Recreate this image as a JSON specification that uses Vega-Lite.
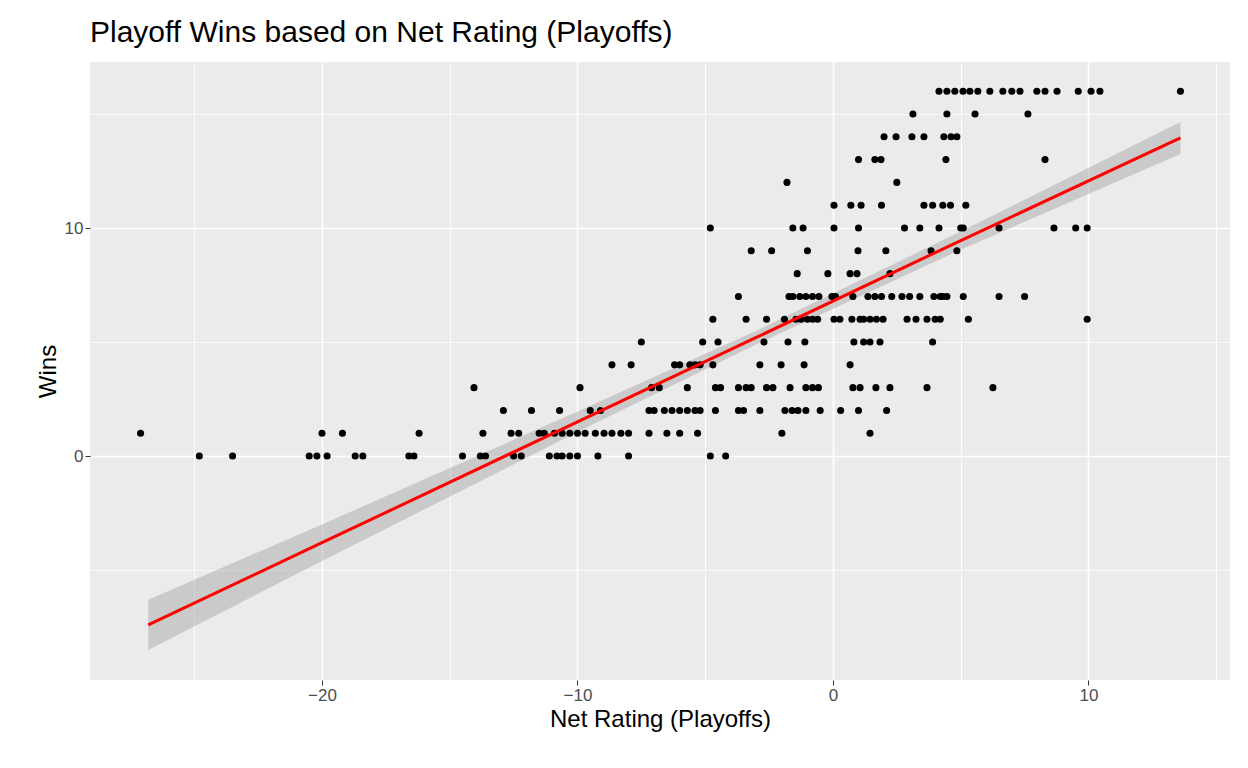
{
"$schema":"https://vega.github.io/schema/vega-lite/v6.json",
"autosize":"none","width":1140,"height":618,
"padding":{"left":90,"top":62,"right":18,"bottom":88},
"background":"white",
"title":{"text":"Playoff Wins based on Net Rating (Playoffs)","anchor":"start","frame":"group","font":"Liberation Sans","fontSize":30,"fontWeight":"normal","color":"black","offset":14},
"config":{"view":{"fill":"#EBEBEB","stroke":null},
"axis":{"domain":false,"gridColor":"white","tickColor":"#333333","tickSize":5,"labelFont":"Liberation Sans","labelFontSize":17,"labelColor":"#4D4D4D","titleFont":"Liberation Sans","titleFontSize":24,"titleFontWeight":"normal","titleColor":"black"}},
"datasets":{
"pts":[
{"x":4.15,"y":16},{"x":4.46,"y":16},{"x":4.77,"y":16},{"x":5.09,"y":16},{"x":5.36,"y":16},{"x":5.67,"y":16},{"x":6.14,"y":16},{"x":6.65,"y":16},{"x":7.0,"y":16},{"x":7.32,"y":16},{"x":7.98,"y":16},{"x":8.3,"y":16},{"x":8.77,"y":16},{"x":9.6,"y":16},{"x":10.1,"y":16},{"x":10.45,"y":16},{"x":13.6,"y":16},
{"x":3.13,"y":15},{"x":4.46,"y":15},{"x":5.56,"y":15},{"x":7.63,"y":15},
{"x":2.0,"y":14},{"x":2.47,"y":14},{"x":3.09,"y":14},{"x":3.56,"y":14},{"x":4.34,"y":14},{"x":4.62,"y":14},{"x":4.85,"y":14},
{"x":1.0,"y":13},{"x":1.64,"y":13},{"x":1.88,"y":13},{"x":4.42,"y":13},{"x":8.3,"y":13},
{"x":-1.8,"y":12},{"x":2.5,"y":12},
{"x":0.04,"y":11},{"x":0.7,"y":11},{"x":1.1,"y":11},{"x":1.9,"y":11},{"x":3.56,"y":11},{"x":3.9,"y":11},{"x":4.3,"y":11},{"x":4.6,"y":11},{"x":5.2,"y":11},
{"x":-4.8,"y":10},{"x":-1.57,"y":10},{"x":-1.17,"y":10},{"x":0.04,"y":10},{"x":1.0,"y":10},{"x":2.8,"y":10},{"x":3.4,"y":10},{"x":4.15,"y":10},{"x":5.0,"y":10},{"x":5.1,"y":10},{"x":6.5,"y":10},{"x":8.65,"y":10},{"x":9.5,"y":10},{"x":9.95,"y":10},
{"x":-3.2,"y":9},{"x":-2.4,"y":9},{"x":-1.0,"y":9},{"x":0.98,"y":9},{"x":2.07,"y":9},{"x":3.84,"y":9},{"x":4.85,"y":9},
{"x":-1.4,"y":8},{"x":-0.2,"y":8},{"x":0.67,"y":8},{"x":0.94,"y":8},{"x":2.23,"y":8},
{"x":-3.7,"y":7},{"x":-1.72,"y":7},{"x":-1.57,"y":7},{"x":-1.3,"y":7},{"x":-1.06,"y":7},{"x":-0.8,"y":7},{"x":-0.55,"y":7},{"x":-0.04,"y":7},{"x":0.1,"y":7},{"x":0.78,"y":7},{"x":1.37,"y":7},{"x":1.64,"y":7},{"x":1.9,"y":7},{"x":2.3,"y":7},{"x":2.7,"y":7},{"x":3.0,"y":7},{"x":3.4,"y":7},{"x":3.95,"y":7},{"x":4.2,"y":7},{"x":4.3,"y":7},{"x":4.46,"y":7},{"x":5.1,"y":7},{"x":6.5,"y":7},{"x":7.5,"y":7},
{"x":-4.7,"y":6},{"x":-3.4,"y":6},{"x":-2.6,"y":6},{"x":-1.9,"y":6},{"x":-1.45,"y":6},{"x":-1.25,"y":6},{"x":-1.0,"y":6},{"x":-0.8,"y":6},{"x":-0.6,"y":6},{"x":0.04,"y":6},{"x":0.27,"y":6},{"x":0.74,"y":6},{"x":1.06,"y":6},{"x":1.2,"y":6},{"x":1.45,"y":6},{"x":1.7,"y":6},{"x":1.96,"y":6},{"x":2.9,"y":6},{"x":3.25,"y":6},{"x":3.68,"y":6},{"x":4.0,"y":6},{"x":4.2,"y":6},{"x":5.3,"y":6},{"x":9.95,"y":6},
{"x":-7.5,"y":5},{"x":-5.1,"y":5},{"x":-4.5,"y":5},{"x":-2.7,"y":5},{"x":-1.76,"y":5},{"x":-1.1,"y":5},{"x":0.82,"y":5},{"x":1.2,"y":5},{"x":1.45,"y":5},{"x":1.84,"y":5},{"x":3.9,"y":5},
{"x":-8.65,"y":4},{"x":-7.9,"y":4},{"x":-6.2,"y":4},{"x":-6.0,"y":4},{"x":-5.6,"y":4},{"x":-5.4,"y":4},{"x":-5.2,"y":4},{"x":-4.7,"y":4},{"x":-2.86,"y":4},{"x":-2.03,"y":4},{"x":-1.13,"y":4},{"x":0.67,"y":4},
{"x":-14.05,"y":3},{"x":-9.9,"y":3},{"x":-7.1,"y":3},{"x":-6.8,"y":3},{"x":-5.7,"y":3},{"x":-4.6,"y":3},{"x":-4.4,"y":3},{"x":-3.7,"y":3},{"x":-3.4,"y":3},{"x":-3.2,"y":3},{"x":-2.6,"y":3},{"x":-2.35,"y":3},{"x":-1.68,"y":3},{"x":-1.06,"y":3},{"x":-0.8,"y":3},{"x":-0.57,"y":3},{"x":0.78,"y":3},{"x":1.06,"y":3},{"x":1.68,"y":3},{"x":2.23,"y":3},{"x":3.68,"y":3},{"x":6.26,"y":3},
{"x":-12.9,"y":2},{"x":-11.8,"y":2},{"x":-10.7,"y":2},{"x":-9.5,"y":2},{"x":-9.1,"y":2},{"x":-7.2,"y":2},{"x":-7.0,"y":2},{"x":-6.6,"y":2},{"x":-6.3,"y":2},{"x":-6.0,"y":2},{"x":-5.7,"y":2},{"x":-5.4,"y":2},{"x":-5.2,"y":2},{"x":-4.6,"y":2},{"x":-3.7,"y":2},{"x":-3.5,"y":2},{"x":-2.86,"y":2},{"x":-1.88,"y":2},{"x":-1.6,"y":2},{"x":-1.37,"y":2},{"x":-1.06,"y":2},{"x":-0.5,"y":2},{"x":0.3,"y":2},{"x":1.0,"y":2},{"x":2.1,"y":2},
{"x":-27.1,"y":1},{"x":-20.0,"y":1},{"x":-19.2,"y":1},{"x":-16.2,"y":1},{"x":-13.7,"y":1},{"x":-12.6,"y":1},{"x":-12.3,"y":1},{"x":-11.5,"y":1},{"x":-11.3,"y":1},{"x":-10.9,"y":1},{"x":-10.6,"y":1},{"x":-10.3,"y":1},{"x":-10.0,"y":1},{"x":-9.7,"y":1},{"x":-9.3,"y":1},{"x":-8.96,"y":1},{"x":-8.65,"y":1},{"x":-8.3,"y":1},{"x":-8.0,"y":1},{"x":-7.2,"y":1},{"x":-6.5,"y":1},{"x":-6.0,"y":1},{"x":-5.3,"y":1},{"x":-2.0,"y":1},{"x":1.45,"y":1},
{"x":-24.8,"y":0},{"x":-23.5,"y":0},{"x":-20.5,"y":0},{"x":-20.2,"y":0},{"x":-19.8,"y":0},{"x":-18.7,"y":0},{"x":-18.4,"y":0},{"x":-16.6,"y":0},{"x":-16.4,"y":0},{"x":-14.5,"y":0},{"x":-13.8,"y":0},{"x":-13.6,"y":0},{"x":-12.5,"y":0},{"x":-12.2,"y":0},{"x":-11.1,"y":0},{"x":-10.8,"y":0},{"x":-10.6,"y":0},{"x":-10.3,"y":0},{"x":-10.0,"y":0},{"x":-9.2,"y":0},{"x":-8.0,"y":0},{"x":-4.8,"y":0},{"x":-4.2,"y":0}
],
"band":[
{"x":-26.8,"fit":-7.4,"lo":-8.5,"hi":-6.3},{"x":-20,"fit":-3.8,"lo":-4.6,"hi":-3.0},{"x":-10,"fit":1.5,"lo":1.05,"hi":1.95},{"x":-3,"fit":5.2,"lo":4.9,"hi":5.5},{"x":5,"fit":9.45,"lo":9.05,"hi":9.85},{"x":13.6,"fit":13.95,"lo":13.25,"hi":14.65}
]},
"layer":[
{"data":{"name":"band"},"mark":{"type":"area","color":"#999999","opacity":0.4},
"encoding":{"x":{"field":"x","type":"quantitative","scale":{"domain":[-29.08,15.54],"nice":false,"zero":false},
"axis":{"title":"Net Rating (Playoffs)","values":[-25,-20,-15,-10,-5,0,5,10,15],"labelExpr":"datum.value % 10 == 0 ? datum.label : ''","tickSize":{"condition":{"test":"datum.value % 10 == 0","value":5},"value":0},"gridWidth":{"condition":{"test":"datum.value % 10 == 0","value":1.6},"value":0.8}}},
"y":{"field":"lo","type":"quantitative","scale":{"domain":[-9.82,17.28],"nice":false,"zero":false},
"axis":{"title":"Wins","values":[-5,0,5,10,15],"labelExpr":"datum.value % 10 == 0 ? datum.label : ''","tickSize":{"condition":{"test":"datum.value % 10 == 0","value":5},"value":0},"gridWidth":{"condition":{"test":"datum.value % 10 == 0","value":1.6},"value":0.8}}},
"y2":{"field":"hi"}}},
{"data":{"name":"pts"},"mark":{"type":"circle","color":"black","opacity":1,"size":50},
"encoding":{"x":{"field":"x","type":"quantitative"},"y":{"field":"y","type":"quantitative"}}},
{"data":{"name":"band"},"mark":{"type":"line","color":"red","strokeWidth":3},
"encoding":{"x":{"field":"x","type":"quantitative"},"y":{"field":"fit","type":"quantitative"}}}
]}
